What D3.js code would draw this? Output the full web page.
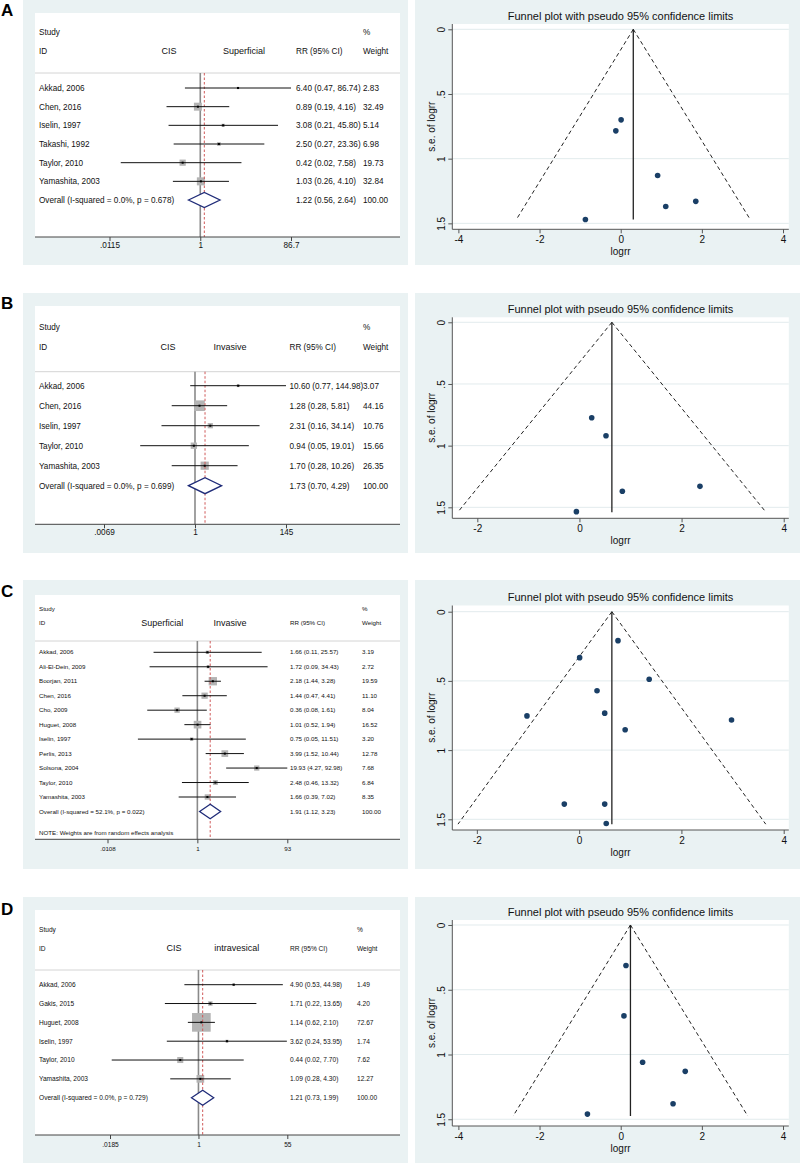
<!DOCTYPE html>
<html><head><meta charset="utf-8">
<script src="https://cdn.jsdelivr.net/npm/d3@7/dist/d3.min.js"></script>
<style>body{margin:0;background:#fff}svg{display:block;font-family:"Liberation Sans",Arial,sans-serif}</style>
</head><body><svg id="c" width="800" height="1163"></svg>
<script>
// ---------------- DATA ----------------
// Panel A: CIS vs Superficial
const studiesA = ["Akkad, 2006","Chen, 2016","Iselin, 1997","Takashi, 1992","Taylor, 2010","Yamashita, 2003"];
const rrA = [6.40, 0.89, 3.08, 2.50, 0.42, 1.03];
const loA = [0.47, 0.19, 0.21, 0.27, 0.02, 0.26];
const hiA = [86.74, 4.16, 45.80, 23.36, 7.58, 4.10];
const weightA = [2.83, 32.49, 5.14, 6.98, 19.73, 32.84];
const overallA = [1.22, 0.56, 2.64];
const overallLabelA = "Overall  (I-squared = 0.0%, p = 0.678)";
const tickValsA = [0.0115, 1, 86.7];
const tickLabelsA = [".0115", "1", "86.7"];
const groupsA = ["CIS", "Superficial"];
const funnelLogrrA = [0.01, -0.12, 0.91, 1.85, 1.11, -0.87];
const funnelSeA = [0.70, 0.785, 1.13, 1.33, 1.37, 1.47];
const funnelPooledA = 0.31, funnelSeMaxA = 1.47;

// Panel B: CIS vs Invasive
const studiesB = ["Akkad, 2006","Chen, 2016","Iselin, 1997","Taylor, 2010","Yamashita, 2003"];
const rrB = [10.60, 1.28, 2.31, 0.94, 1.70];
const loB = [0.77, 0.28, 0.16, 0.05, 0.28];
const hiB = [144.98, 5.81, 34.14, 19.01, 10.26];
const weightB = [3.07, 44.16, 10.76, 15.66, 26.35];
const overallB = [1.73, 0.70, 4.29];
const overallLabelB = "Overall  (I-squared = 0.0%, p = 0.699)";
const tickValsB = [0.0069, 1, 145];
const tickLabelsB = [".0069", "1", "145"];
const groupsB = ["CIS", "Invasive"];
const funnelLogrrB = [0.24, 0.52, 0.84, 2.36, -0.06];
const funnelSeB = [0.774, 0.92, 1.37, 1.33, 1.535];
const funnelPooledB = 0.635, funnelSeMaxB = 1.54;

// Panel C: Superficial vs Invasive
const studiesC = ["Akkad, 2006","Ali-El-Dein, 2009","Boorjan, 2011","Chen, 2016","Cho, 2009","Huguet, 2008","Iselin, 1997","Perlis, 2013","Solsona, 2004","Taylor, 2010","Yamashita, 2003"];
const rrC = [1.66, 1.72, 2.18, 1.44, 0.36, 1.01, 0.75, 3.99, 19.93, 2.48, 1.66];
const loC = [0.11, 0.09, 1.44, 0.47, 0.08, 0.52, 0.05, 1.52, 4.27, 0.46, 0.39];
const hiC = [25.57, 34.43, 3.28, 4.41, 1.61, 1.94, 11.51, 10.44, 92.98, 13.32, 7.02];
const weightC = [3.19, 2.72, 19.59, 11.10, 8.04, 16.52, 3.20, 12.78, 7.68, 6.84, 8.35];
const overallC = [1.91, 1.12, 3.23];
const overallLabelC = "Overall  (I-squared = 52.1%, p = 0.022)";
const noteC = "NOTE: Weights are from random effects analysis";
const tickValsC = [0.0108, 1, 93];
const tickLabelsC = [".0108", "1", "93"];
const groupsC = ["Superficial", "Invasive"];
const funnelLogrrC = [0.76, 0.01, 1.37, 0.35, -1.02, 0.50, 2.98, 0.90, -0.29, 0.50, 0.53];
const funnelSeC = [0.209, 0.332, 0.488, 0.571, 0.753, 0.733, 0.782, 0.853, 1.39, 1.39, 1.53];
const funnelPooledC = 0.64, funnelSeMaxC = 1.535;

// Panel D: CIS vs intravesical
const studiesD = ["Akkad, 2006","Gakis, 2015","Huguet, 2008","Iselin, 1997","Taylor, 2010","Yamashita, 2003"];
const rrD = [4.90, 1.71, 1.14, 3.62, 0.44, 1.09];
const loD = [0.53, 0.22, 0.62, 0.24, 0.02, 0.28];
const hiD = [44.98, 13.65, 2.10, 53.95, 7.70, 4.30];
const weightD = [1.49, 4.20, 72.67, 1.74, 7.62, 12.27];
const overallD = [1.21, 0.73, 1.99];
const overallLabelD = "Overall  (I-squared = 0.0%, p = 0.729)";
const tickValsD = [0.0185, 1, 55];
const tickLabelsD = [".0185", "1", "55"];
const groupsD = ["CIS", "intravesical"];
const funnelLogrrD = [0.13, 0.08, 0.54, 1.59, 1.29, -0.82];
const funnelSeD = [0.313, 0.702, 1.06, 1.13, 1.38, 1.46];
const funnelPooledD = 0.24, funnelSeMaxD = 1.475;

const funnelXTicksWide = [-4, -2, 0, 2, 4];
const funnelXTicksNarrow = [-2, 0, 2, 4];
const funnelYTicks = [0, 0.5, 1, 1.5];
const funnelYTickLabels = ["0", ".5", "1", "1.5"];

// ---------------- STYLE / LAYOUT ----------------
const BG = "#eaf2f3";
const svg = d3.select("#c");

const panels = [
  {letter:"A", letterY:10, studies:studiesA, rr:rrA, lo:loA, hi:hiA, w:weightA, ov:overallA, ovLabel:overallLabelA,
   ticks:tickValsA, tickLabels:tickLabelsA, groups:groupsA, groupX:[169,244],
   bgTop:0, bgBot:265, whiteTop:13, axisY:237, studyY:32, idY:51, sepY:73, row0:88, step:18.67, tickY:248,
   valX:296, wX:363, range:[109.5,291], font:8.2, boxK:1.4, dh:7.5,
   fx:funnelLogrrA, fse:funnelSeA, pooled:funnelPooledA, seMax:funnelSeMaxA, fxTicks:funnelXTicksWide,
   titleY:16, plotTop:24, fAxisY:229.3, xDom:[-4.15,4.13], yDom:[-0.041,1.546]},
  {letter:"B", letterY:303, studies:studiesB, rr:rrB, lo:loB, hi:hiB, w:weightB, ov:overallB, ovLabel:overallLabelB,
   ticks:tickValsB, tickLabels:tickLabelsB, groups:groupsB, groupX:[168,230],
   bgTop:293, bgBot:553, whiteTop:306, axisY:524.3, studyY:326.7, idY:346.7, sepY:371.7, row0:385.7, step:20, tickY:535,
   valX:289.5, wX:363, range:[104,286], font:8.2, boxK:1.6, dh:8,
   fx:funnelLogrrB, fse:funnelSeB, pooled:funnelPooledB, seMax:funnelSeMaxB, fxTicks:funnelXTicksNarrow,
   titleY:309.3, plotTop:317.3, fAxisY:518.3, xDom:[-2.49,4.09], yDom:[-0.0405,1.589]},
  {letter:"C", letterY:591, studies:studiesC, rr:rrC, lo:loC, hi:hiC, w:weightC, ov:overallC, ovLabel:overallLabelC, note:noteC,
   ticks:tickValsC, tickLabels:tickLabelsC, groups:groupsC, groupX:[162.3,230],
   bgTop:580, bgBot:869, whiteTop:595, axisY:839.3, studyY:609.3, idY:623.3, sepY:641, row0:652.3, step:14.47, tickY:850.7, noteY:833.3,
   valX:290, wX:362, range:[107.5,287.3], font:6.2, boxK:1.88, dh:7.3,
   fx:funnelLogrrC, fse:funnelSeC, pooled:funnelPooledC, seMax:funnelSeMaxC, fxTicks:funnelXTicksNarrow,
   titleY:596.7, plotTop:605.5, fAxisY:830, xDom:[-2.48,4.09], yDom:[-0.0448,1.5773]},
  {letter:"D", letterY:909, studies:studiesD, rr:rrD, lo:loD, hi:hiD, w:weightD, ov:overallD, ovLabel:overallLabelD,
   ticks:tickValsD, tickLabels:tickLabelsD, groups:groupsD, groupX:[174,236.7],
   bgTop:897, bgBot:1163, whiteTop:910, axisY:1135, studyY:929.3, idY:948.3, sepY:970, row0:984.7, step:18.83, tickY:1146.7,
   valX:290, wX:357, range:[110,287.3], font:6.6, boxK:2.19, dh:7.5,
   fx:funnelLogrrD, fse:funnelSeD, pooled:funnelPooledD, seMax:funnelSeMaxD, fxTicks:funnelXTicksWide,
   titleY:912.3, plotTop:920, fAxisY:1126, xDom:[-4.15,4.13], yDom:[-0.0386,1.552]}
];

const fmt = d3.format(".2f");

function txt(g, x, y, s, size, anchor) {
  return g.append("text").attr("x", x).attr("y", y).attr("dy", "0.35em")
    .attr("font-size", size).attr("fill", "#111").attr("text-anchor", anchor || "start").text(s);
}

function forest(p) {
  const g = svg.append("g");
  g.append("rect").attr("x", 23).attr("y", p.bgTop).attr("width", 385).attr("height", p.bgBot - p.bgTop).attr("fill", BG);
  g.append("rect").attr("x", 35).attr("y", p.whiteTop).attr("width", 365).attr("height", p.axisY - p.whiteTop).attr("fill", "#fff");
  g.append("text").attr("x", 1).attr("y", p.letterY).attr("dy", "0.36em").attr("font-size", 17)
    .attr("font-weight", "bold").attr("fill", "#000").text(p.letter);

  const x = d3.scaleLog().domain([p.ticks[0], p.ticks[2]]).range(p.range);
  const rowY = i => p.row0 + i * p.step;
  const n = p.studies.length;

  // headers
  txt(g, 39, p.studyY, "Study", p.font);
  txt(g, 39, p.idY, "ID", p.font);
  txt(g, p.wX, p.studyY, "%", p.font);
  txt(g, p.wX, p.idY, "Weight", p.font);
  txt(g, p.valX, p.idY, "RR (95% CI)", p.font);
  txt(g, p.groupX[0], p.idY, p.groups[0], 9, "middle");
  txt(g, p.groupX[1], p.idY, p.groups[1], 9, "middle");
  g.append("line").attr("x1", 35).attr("x2", 400).attr("y1", p.sepY).attr("y2", p.sepY)
    .attr("stroke", "#d4d4d4").attr("stroke-width", 1);

  // null line
  g.append("line").attr("x1", x(1)).attr("x2", x(1)).attr("y1", p.sepY).attr("y2", p.axisY)
    .attr("stroke", "#8a8a8a").attr("stroke-width", 1.6);

  // boxes
  g.selectAll("rect.box").data(p.w).join("rect").attr("class", "box")
    .attr("x", (d, i) => x(p.rr[i]) - p.boxK * Math.sqrt(d) / 2)
    .attr("y", (d, i) => rowY(i) - p.boxK * Math.sqrt(d) / 2)
    .attr("width", d => p.boxK * Math.sqrt(d)).attr("height", d => p.boxK * Math.sqrt(d))
    .attr("fill", "#b4b4b4");
  // pooled dashed line
  g.append("line").attr("x1", x(p.ov[0])).attr("x2", x(p.ov[0])).attr("y1", p.sepY).attr("y2", p.axisY)
    .attr("stroke", "#d05a5a").attr("stroke-width", 1).attr("stroke-dasharray", "2.5,2");
  // CI lines
  g.selectAll("line.ci").data(p.rr).join("line").attr("class", "ci")
    .attr("x1", (d, i) => x(p.lo[i])).attr("x2", (d, i) => x(p.hi[i]))
    .attr("y1", (d, i) => rowY(i)).attr("y2", (d, i) => rowY(i))
    .attr("stroke", "#111").attr("stroke-width", 1);
  g.selectAll("rect.dot").data(p.rr).join("rect").attr("class", "dot")
    .attr("x", d => x(d) - 1).attr("y", (d, i) => rowY(i) - 1).attr("width", 2).attr("height", 2).attr("fill", "#000");

  // diamond
  const oy = rowY(n);
  g.append("polygon")
    .attr("points", [[x(p.ov[1]), oy], [x(p.ov[0]), oy - p.dh], [x(p.ov[2]), oy], [x(p.ov[0]), oy + p.dh]].map(q => q.join(",")).join(" "))
    .attr("fill", "#fff").attr("stroke", "#1f2b78").attr("stroke-width", 1.3);

  // texts per row
  p.studies.forEach((s, i) => {
    txt(g, 39, rowY(i), s, p.font);
    txt(g, p.valX, rowY(i), fmt(p.rr[i]) + " (" + fmt(p.lo[i]) + ", " + fmt(p.hi[i]) + ")", p.font);
    txt(g, p.wX, rowY(i), fmt(p.w[i]), p.font);
  });
  txt(g, 39, oy, p.ovLabel, p.font);
  txt(g, p.valX, oy, fmt(p.ov[0]) + " (" + fmt(p.ov[1]) + ", " + fmt(p.ov[2]) + ")", p.font);
  txt(g, p.wX, oy, fmt(100), p.font);
  if (p.note) txt(g, 39, p.noteY, p.note, p.font);

  // axis
  g.append("line").attr("x1", 35).attr("x2", 400).attr("y1", p.axisY).attr("y2", p.axisY)
    .attr("stroke", "#444").attr("stroke-width", 1);
  const ax = d3.axisBottom(x).tickValues(p.ticks).tickFormat((d, i) => p.tickLabels[i])
    .tickSize(4).tickPadding(Math.max(1, p.tickY - p.axisY - 4 - 0.35 * p.font - 0.36 * p.font));
  const ag = g.append("g").attr("transform", `translate(0,${p.axisY})`).call(ax);
  ag.select(".domain").remove();
  ag.selectAll("line").attr("stroke", "#444");
  ag.selectAll("text").attr("font-size", p.font).attr("fill", "#111").attr("font-family", null);
}

function funnel(p) {
  const g = svg.append("g");
  g.append("rect").attr("x", 415).attr("y", p.bgTop).attr("width", 385).attr("height", p.bgBot - p.bgTop).attr("fill", BG);
  const L = 452.3, R = 788.8;
  g.append("rect").attr("x", L).attr("y", p.plotTop).attr("width", R - L).attr("height", p.fAxisY - p.plotTop).attr("fill", "#fff");
  const x = d3.scaleLinear().domain(p.xDom).range([L, 788.3]);
  const y = d3.scaleLinear().domain(p.yDom).range([p.plotTop, p.fAxisY]);

  // gridlines
  g.selectAll("line.grid").data(funnelYTicks).join("line").attr("class", "grid")
    .attr("x1", L).attr("x2", R).attr("y1", d => y(d)).attr("y2", d => y(d))
    .attr("stroke", "#e2ebed").attr("stroke-width", 1);

  // title
  g.append("text").attr("x", (L + R) / 2).attr("y", p.titleY).attr("dy", "0.35em").attr("text-anchor", "middle")
    .attr("font-size", 11).attr("fill", "#111").text("Funnel plot with pseudo 95% confidence limits");

  // pseudo CI lines
  const ln = (a, b) => g.append("line").attr("x1", x(a[0])).attr("y1", y(a[1])).attr("x2", x(b[0])).attr("y2", y(b[1]));
  ln([p.pooled, 0], [p.pooled - 1.96 * p.seMax, p.seMax]).attr("stroke", "#222").attr("stroke-width", 1).attr("stroke-dasharray", "4,3");
  ln([p.pooled, 0], [p.pooled + 1.96 * p.seMax, p.seMax]).attr("stroke", "#222").attr("stroke-width", 1).attr("stroke-dasharray", "4,3");
  ln([p.pooled, 0], [p.pooled, p.seMax]).attr("stroke", "#222").attr("stroke-width", 1.3);

  // points
  g.selectAll("circle.pt").data(p.fx).join("circle").attr("class", "pt")
    .attr("cx", d => x(d)).attr("cy", (d, i) => y(p.fse[i])).attr("r", 2.8).attr("fill", "#1a3f66");

  // axes
  const xa = d3.axisBottom(x).tickValues(p.fxTicks).tickFormat(d3.format("d")).tickSize(4).tickPadding(3);
  const xg = g.append("g").attr("transform", `translate(0,${p.fAxisY})`).call(xa);
  xg.select(".domain").attr("d", `M${L},0H${R}`).attr("stroke", "#555");
  xg.selectAll("line").attr("stroke", "#555");
  xg.selectAll("text").attr("font-size", 10).attr("fill", "#111").attr("font-family", null)
    .text(d => d < 0 ? "-" + Math.abs(d) : String(d));
  g.append("text").attr("x", (L + R) / 2).attr("y", p.fAxisY + 22).attr("dy", "0.35em").attr("text-anchor", "middle")
    .attr("font-size", 10).attr("fill", "#111").text("logrr");

  const ya = d3.axisLeft(y).tickValues(funnelYTicks).tickFormat((d, i) => funnelYTickLabels[i]).tickSize(4);
  const yg = g.append("g").attr("transform", `translate(${L},0)`).call(ya);
  yg.select(".domain").attr("d", `M0,${p.plotTop}V${p.fAxisY}`).attr("stroke", "#555");
  yg.selectAll("line").attr("stroke", "#555");
  yg.selectAll("text").attr("font-size", 10).attr("fill", "#111").attr("font-family", null)
    .attr("transform", "rotate(-90)").attr("x", 0).attr("y", -10.6).attr("dy", "0.35em").attr("text-anchor", "middle");
  g.append("text").attr("transform", `translate(${L - 20.6},${(p.plotTop + p.fAxisY) / 2}) rotate(-90)`)
    .attr("dy", "0.35em").attr("text-anchor", "middle").attr("font-size", 10).attr("fill", "#111").text("s.e. of logrr");
}

panels.forEach(p => { forest(p); funnel(p); });
</script></body></html>
